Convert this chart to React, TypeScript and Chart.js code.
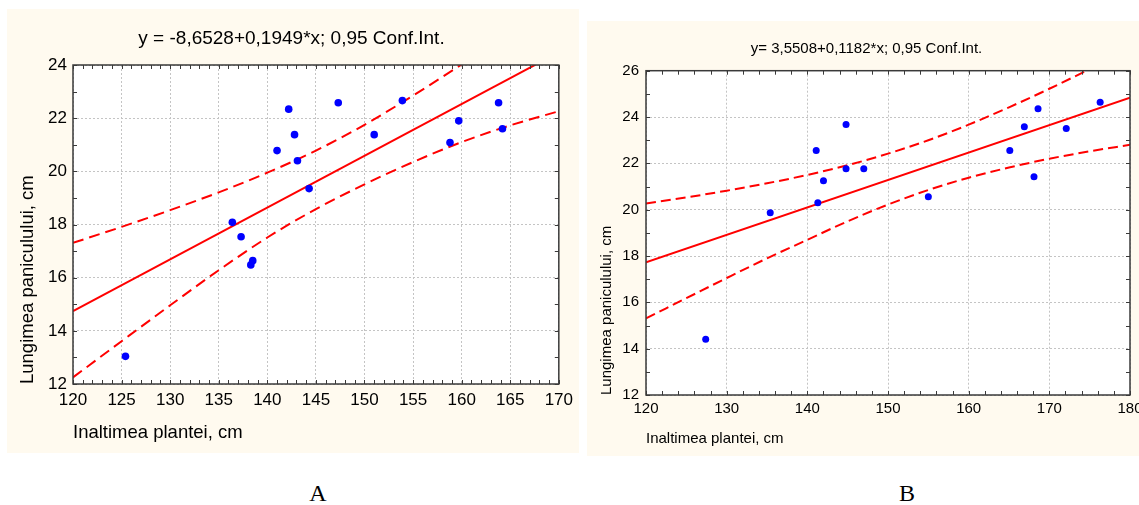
import { useEffect, useRef } from "react";
import { Chart, registerables } from "chart.js";

Chart.register(...registerables);

// ---------- Chart A data ----------
const titleA = "y = -8,6528+0,1949*x; 0,95 Conf.Int.";
const xTicksA = [120, 125, 130, 135, 140, 145, 150, 155, 160, 165, 170];
const yTicksA = [12, 14, 16, 18, 20, 22, 24];
const pointsXA = [125.4, 136.4, 137.3, 138.3, 138.5, 141.0, 142.2, 142.8, 143.1, 144.3, 147.3, 151.0, 153.9, 158.8, 159.7, 163.8, 164.2];
const pointsYA = [13.04, 18.08, 17.54, 16.48, 16.64, 20.78, 22.34, 21.38, 20.4, 19.35, 22.58, 21.38, 22.66, 21.08, 21.9, 22.58, 21.6];
const fitXA = [120, 170];
const fitYA = [14.74, 24.48];
const bandXA = [120, 125, 130, 135, 140, 145, 150, 155, 160, 165, 170];
const upperA = [17.31, 17.91, 18.54, 19.21, 19.95, 20.78, 21.75, 22.85, 24.02, 25.22, 26.44];
const lowerA = [12.25, 13.61, 14.96, 16.28, 17.51, 18.58, 19.51, 20.35, 21.1, 21.73, 22.26];

// ---------- Chart B data ----------
const titleB = "y= 3,5508+0,1182*x; 0,95 Conf.Int.";
const xTicksB = [120, 130, 140, 150, 160, 170, 180];
const yTicksB = [12, 14, 16, 18, 20, 22, 24, 26];
const pointsXB = [127.4, 135.4, 141.1, 141.3, 142.0, 144.8, 144.8, 147.0, 155.0, 165.1, 166.9, 168.1, 168.6, 172.1, 176.3];
const pointsYB = [14.41, 19.87, 22.55, 20.3, 21.25, 23.68, 21.77, 21.77, 20.56, 22.55, 23.58, 21.42, 24.36, 23.5, 24.64];
const fitXB = [120, 180];
const fitYB = [17.73, 24.83];
const bandXB = [120, 125, 130, 135, 140, 145, 150, 155, 160, 165, 170, 175, 180];
const upperB = [20.27, 20.53, 20.82, 21.14, 21.5, 21.92, 22.42, 23.0, 23.67, 24.42, 25.22, 26.07, 26.95];
const lowerB = [15.31, 16.18, 17.05, 17.9, 18.7, 19.5, 20.22, 20.85, 21.38, 21.82, 22.2, 22.52, 22.8];

const xLabel = "Inaltimea plantei, cm";
const yLabel = "Lungimea paniculului, cm";

const FAMILY = "'Liberation Sans', Arial, sans-serif";
const PANEL = "#FFFAEF";

const zip = (xs: number[], ys: number[]) => xs.map((x, i) => ({ x, y: ys[i] }));

const framePlugin = {
  id: "frame",
  beforeDraw(chart: any) {
    const { ctx, chartArea } = chart;
    ctx.save();
    ctx.fillStyle = "#ffffff";
    ctx.fillRect(chartArea.left, chartArea.top, chartArea.right - chartArea.left, chartArea.bottom - chartArea.top);
    ctx.restore();
  },
  afterDraw(chart: any, _args: any, opts: any) {
    const { ctx, chartArea } = chart;
    const { left, right, top, bottom } = chartArea;
    const xs = chart.scales.x;
    const ys = chart.scales.y;
    ctx.save();
    ctx.strokeStyle = opts.color;
    ctx.lineWidth = 1;
    ctx.beginPath();
    for (let v = xs.min; v <= xs.max + 1e-9; v += opts.xMinor) {
      const px = Math.round(xs.getPixelForValue(v)) + 0.5;
      ctx.moveTo(px, top);
      ctx.lineTo(px, top + opts.tick);
      ctx.moveTo(px, bottom);
      ctx.lineTo(px, bottom - opts.tick);
    }
    for (let v = ys.min; v <= ys.max + 1e-9; v += opts.yMinor) {
      const py = Math.round(ys.getPixelForValue(v)) + 0.5;
      ctx.moveTo(left, py);
      ctx.lineTo(left + opts.tick, py);
      ctx.moveTo(right, py);
      ctx.lineTo(right - opts.tick, py);
    }
    ctx.stroke();
    ctx.lineWidth = opts.width;
    ctx.strokeRect(left, top, right - left, bottom - top);
    ctx.restore();
  },
};

type Spec = {
  title: string;
  xTicks: number[];
  yTicks: number[];
  px: number[];
  py: number[];
  fx: number[];
  fy: number[];
  bx: number[];
  up: number[];
  lo: number[];
};

function buildConfig(s: Spec, L: any): any {
  const lineBase = {
    showLine: true,
    pointRadius: 0,
    borderColor: "#FF0000",
    borderWidth: 2,
    fill: false,
    clip: 0,
  };
  return {
    type: "scatter",
    data: {
      datasets: [
        {
          data: zip(s.px, s.py),
          pointRadius: L.pointR,
          pointBackgroundColor: "#0000FF",
          pointBorderWidth: 0,
          pointBorderColor: "#0000FF",
        },
        { ...lineBase, data: zip(s.fx, s.fy) },
        { ...lineBase, data: zip(s.bx, s.up), borderDash: L.dash, cubicInterpolationMode: "monotone" },
        { ...lineBase, data: zip(s.bx, s.lo), borderDash: L.dash, cubicInterpolationMode: "monotone" },
      ],
    },
    options: {
      responsive: false,
      animation: false,
      devicePixelRatio: 1,
      events: [],
      layout: { padding: { left: L.padL, right: L.padR, top: 0, bottom: 0 } },
      plugins: {
        legend: { display: false },
        tooltip: { enabled: false },
        title: {
          display: true,
          text: s.title,
          color: "#000",
          font: { family: FAMILY, size: L.titleSize, weight: "normal", lineHeight: 1.2 },
          padding: { top: L.titlePadTop, bottom: L.titlePadBottom },
        },
        frame: { color: "#3a3a3a", width: 1.5, tick: 4, xMinor: L.xMinor, yMinor: L.yMinor },
      },
      scales: {
        x: {
          type: "linear",
          min: s.xTicks[0],
          max: s.xTicks[s.xTicks.length - 1],
          afterBuildTicks: (sc: any) => {
            sc.ticks = s.xTicks.map((v) => ({ value: v }));
          },
          afterFit: (sc: any) => {
            sc.height = L.xAxisH;
          },
          ticks: {
            color: "#000",
            font: { family: FAMILY, size: L.tickSize },
            padding: L.xTickPad,
            maxRotation: 0,
            autoSkip: false,
            callback: (v: any) => String(v),
          },
          grid: { color: "#c4c4c4", lineWidth: 1, drawTicks: false },
          border: { display: false, dash: [2, 2] },
          title: {
            display: true,
            text: xLabel,
            align: "start",
            color: "#000",
            font: { family: FAMILY, size: L.axisTitleSize, lineHeight: 1.2 },
            padding: { top: 0, bottom: L.xTitlePadBottom },
          },
        },
        y: {
          type: "linear",
          min: s.yTicks[0],
          max: s.yTicks[s.yTicks.length - 1],
          afterBuildTicks: (sc: any) => {
            sc.ticks = s.yTicks.map((v) => ({ value: v }));
          },
          afterFit: (sc: any) => {
            sc.width = L.yAxisW;
          },
          ticks: {
            color: "#000",
            font: { family: FAMILY, size: L.tickSize },
            padding: L.yTickPad,
            autoSkip: false,
            callback: (v: any) => String(v),
          },
          grid: { color: "#c4c4c4", lineWidth: 1, drawTicks: false },
          border: { display: false, dash: [2, 2] },
          title: {
            display: true,
            text: yLabel,
            align: "start",
            color: "#000",
            font: { family: FAMILY, size: L.axisTitleSize, lineHeight: 1.2 },
            padding: { top: L.yTitlePadTop, bottom: 0 },
          },
        },
      },
    },
    plugins: [framePlugin],
  };
}

const specA: Spec = {
  title: titleA, xTicks: xTicksA, yTicks: yTicksA, px: pointsXA, py: pointsYA,
  fx: fitXA, fy: fitYA, bx: bandXA, up: upperA, lo: lowerA,
};
const specB: Spec = {
  title: titleB, xTicks: xTicksB, yTicks: yTicksB, px: pointsXB, py: pointsYB,
  fx: fitXB, fy: fitYB, bx: bandXB, up: upperB, lo: lowerB,
};

const layoutA = {
  padL: 16, padR: 19, yAxisW: 50, xAxisH: 69,
  titleSize: 19, titlePadTop: 17.9, titlePadBottom: 15.3,
  tickSize: 17, axisTitleSize: 18.5,
  xTickPad: 6, yTickPad: 6, xTitlePadBottom: 8.9, yTitlePadTop: -5.8,
  xMinor: 1, yMinor: 1, pointR: 3.8, dash: [11, 6],
};
const layoutB = {
  padL: 16, padR: 37, yAxisW: 43, xAxisH: 61,
  titleSize: 15, titlePadTop: 18.5, titlePadBottom: 13.2,
  tickSize: 15, axisTitleSize: 15,
  xTickPad: 4.5, yTickPad: 7, xTitlePadBottom: 8, yTitlePadTop: -5.6,
  xMinor: 2, yMinor: 1, pointR: 3.5, dash: [10, 5],
};

export default function App() {
  const refA = useRef<HTMLCanvasElement>(null);
  const refB = useRef<HTMLCanvasElement>(null);

  useEffect(() => {
    const a = new Chart(refA.current as HTMLCanvasElement, buildConfig(specA, layoutA));
    const b = new Chart(refB.current as HTMLCanvasElement, buildConfig(specB, layoutB));
    return () => {
      a.destroy();
      b.destroy();
    };
  }, []);

  const letter: any = {
    position: "absolute",
    top: 478,
    width: 100,
    height: 30,
    lineHeight: "30px",
    textAlign: "center",
    fontFamily: "'Liberation Serif', 'Times New Roman', serif",
    fontSize: 24,
    color: "#000",
  };

  return (
    <div style={{ position: "absolute", left: 0, top: 0, width: 1139, height: 505, overflow: "hidden", background: "#ffffff" }}>
      <canvas
        ref={refA}
        width={572}
        height={444}
        style={{ position: "absolute", left: 7, top: 9, width: 572, height: 444, background: PANEL }}
      />
      <canvas
        ref={refB}
        width={580}
        height={435}
        style={{ position: "absolute", left: 587, top: 21, width: 580, height: 435, background: PANEL }}
      />
      <div style={{ ...letter, left: 268 }}>A</div>
      <div style={{ ...letter, left: 857 }}>B</div>
    </div>
  );
}
